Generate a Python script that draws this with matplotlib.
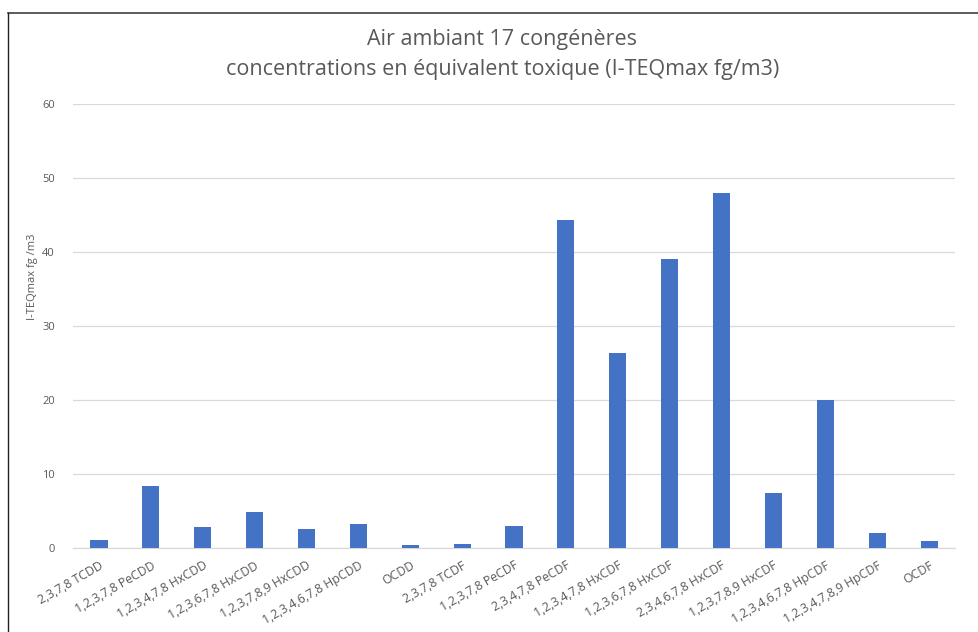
import matplotlib
matplotlib.use("Agg")
import matplotlib.pyplot as plt
from matplotlib.lines import Line2D

categories = ["2,3,7,8 TCDD", "1,2,3,7,8 PeCDD", "1,2,3,4,7,8 HxCDD", "1,2,3,6,7,8 HxCDD",
              "1,2,3,7,8,9 HxCDD", "1,2,3,4,6,7,8 HpCDD", "OCDD", "2,3,7,8 TCDF",
              "1,2,3,7,8 PeCDF", "2,3,4,7,8 PeCDF", "1,2,3,4,7,8 HxCDF", "1,2,3,6,7,8 HxCDF",
              "2,3,4,6,7,8 HxCDF", "1,2,3,7,8,9 HxCDF", "1,2,3,4,6,7,8 HpCDF",
              "1,2,3,4,7,8,9 HpCDF", "OCDF"]
values = [1.1, 8.4, 2.8, 4.9, 2.6, 3.2, 0.4, 0.55, 3.0, 44.3, 26.4, 39.1, 48.0, 7.4, 20.0, 2.0, 0.95]
yticks = [0, 10, 20, 30, 40, 50, 60]

plt.rcParams['font.family'] = ['Open Sans', 'DejaVu Sans']
txt = '#595959'

fig = plt.figure(figsize=(9.79, 6.32), dpi=100)
ax = fig.add_axes([0.0746, 0.1329, 0.9009, 0.7025])

x = list(range(len(categories)))
ax.bar(x, values, width=0.33, color='#4472C4', zorder=3)
ax.set_xlim(-0.5, len(categories) - 0.5)
ax.set_ylim(0, 60)
ax.set_yticks(yticks)
ax.set_yticklabels([str(t) for t in yticks], fontsize=8, color=txt)
ax.set_xticks(x)
ax.set_xticklabels(categories, rotation=30, ha='right', rotation_mode='anchor',
                   fontsize=8.8, color=txt)
ax.tick_params(axis='both', length=0)
ax.tick_params(axis='y', pad=13)
ax.tick_params(axis='x', pad=8)
ax.grid(axis='y', color='#d9d9d9', linewidth=0.9, zorder=0)
for s in ['top', 'right', 'left']:
    ax.spines[s].set_visible(False)
ax.spines['bottom'].set_color('#d9d9d9')
ax.spines['bottom'].set_linewidth(0.9)

fig.text(0.033, 1 - 277 / 632, "I-TEQmax fg /m3", rotation=90, ha='center', va='center',
         fontsize=8, color=txt)

fig.text(0.513, 1 - 40 / 632, "Air ambiant 17 congénères", ha='center', va='center',
         fontsize=15.5, color=txt)
fig.text(0.513, 1 - 69 / 632, "concentrations en équivalent toxique (I-TEQmax fg/m3)",
         ha='center', va='center', fontsize=15.5, color=txt)

# outer frame (top and left visible)
fig.add_artist(Line2D([8 / 979, 1], [1 - 12.5 / 632, 1 - 12.5 / 632], color='#404040', linewidth=1.2,
                      transform=fig.transFigure))
fig.add_artist(Line2D([8.5 / 979, 8.5 / 979], [0, 1 - 12.5 / 632], color='#202020', linewidth=1.0,
                      transform=fig.transFigure))

fig.savefig("out.png", dpi=100, facecolor='white')
